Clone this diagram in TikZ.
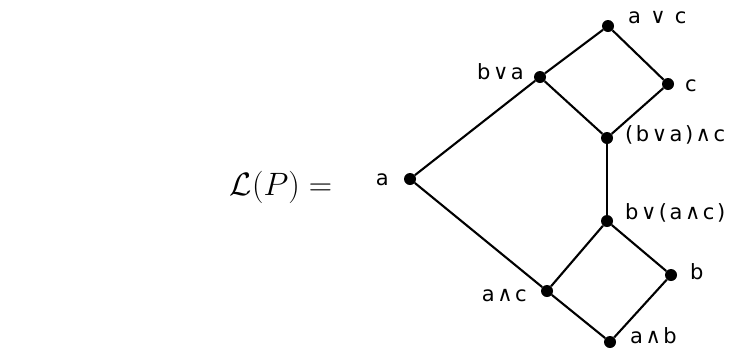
\documentclass[tikz,border=0pt]{standalone}
\usepackage{fontspec}
\newfontfamily\lblfont[LetterSpace=12]{DejaVu Sans}
\begin{document}
\begin{tikzpicture}[x=1pt,y=-1pt,
  pt/.style={circle,fill=black,inner sep=0pt,minimum size=12pt},
  lbl/.style={font=\lblfont\fontsize{21}{24}\selectfont,inner sep=0pt},
  edge/.style={line width=2.1pt}]
\useasboundingbox (0,0) rectangle (733,349);
\node[font=\fontsize{24}{28}\selectfont] (lp) at (281,187) {\scalebox{1.3}{$\mathcal{L}(P) =$}};
\node[pt] (avc) at (608,26) {};
\node[pt] (bva) at (540,77) {};
\node[pt] (c) at (668,84) {};
\node[pt] (bvac) at (607,138) {};
\node[pt] (a) at (410,179) {};
\node[pt] (bvaac) at (607,221) {};
\node[pt] (b) at (671,275) {};
\node[pt] (aac) at (547,291) {};
\node[pt] (aab) at (610,342) {};
\draw[edge] (avc) -- (bva) -- (bvac) -- (c) -- (avc);
\draw[edge] (bva) -- (a) -- (aac) -- (aab) -- (b) -- (bvaac) -- (aac);
\draw[edge] (bvac) -- (bvaac);
\node[lbl,anchor=west] (Lavc) at (628,18) {a ∨ c};
\node[lbl,anchor=east] (Lbva) at (524,72) {b∨a};
\node[lbl,anchor=west] (Lc) at (685,86) {c};
\node[lbl,anchor=west] (Lbvac) at (625,135) {(b∨a)∧c};
\node[lbl,anchor=east] (La) at (389,180) {a};
\node[lbl,anchor=west] (Lbvaac) at (625,213) {b∨(a∧c)};
\node[lbl,anchor=west] (Lb) at (690,272) {b};
\node[lbl,anchor=east] (Laac) at (527,296) {a∧c};
\node[lbl,anchor=west] (Laab) at (630,336) {a∧b};
\end{tikzpicture}
\end{document}
